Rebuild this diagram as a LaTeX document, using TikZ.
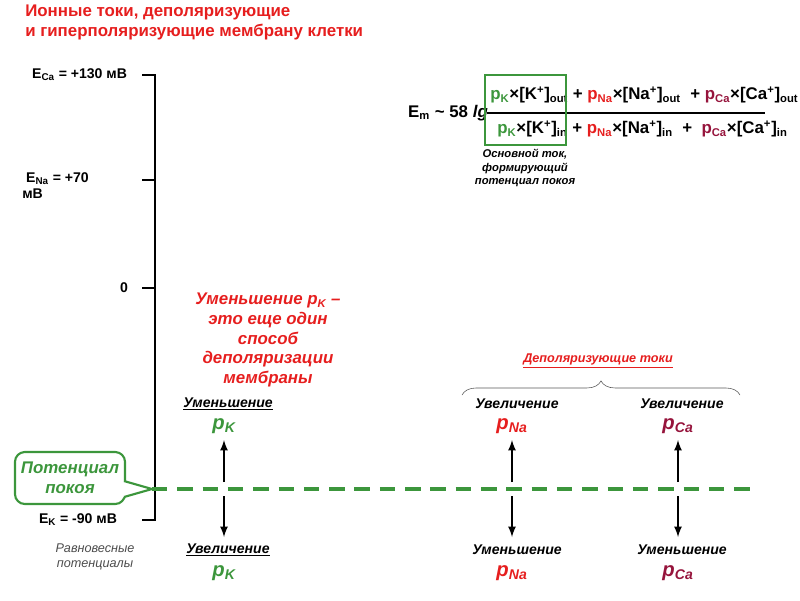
\documentclass[tikz,border=0pt]{standalone}
\usepackage{fontspec}
\setmainfont{Liberation Sans}
\usetikzlibrary{decorations.pathreplacing}
\definecolor{kgreen}{RGB}{60,150,60}
\definecolor{nared}{RGB}{230,30,30}
\definecolor{camag}{RGB}{150,20,60}
\newcommand{\pk}{\textcolor{kgreen}{p\textsubscript{K}}}
\newcommand{\pna}{\textcolor{nared}{p\textsubscript{Na}}}
\newcommand{\pca}{\textcolor{camag}{p\textsubscript{Ca}}}
\begin{document}
\begin{tikzpicture}[x=0.025cm,y=-0.025cm,
  lbl/.style={font=\bfseries\itshape},
  ion/.style={font=\bfseries\itshape\Large},
  pot/.style={font=\bfseries},
  arr/.style={-latex,line width=1.5pt}]
\useasboundingbox (0,0) rectangle (800,600);

% title
\node[anchor=north west,align=left,text=nared,font=\bfseries\large,inner sep=0pt] (title) at (25,5)
  {Ионные токи, деполяризующие\\и гиперполяризующие мембрану клетки};

% potential axis
\coordinate (top) at (155,75);
\coordinate (bot) at (155,520);
\draw[line width=1.4pt] (142,75) -- (top) -- (bot) -- (142,520);
\draw[line width=1.4pt] (142,180) -- (155,180) (142,288) -- (155,288);
\node[pot,anchor=east] (eca) at (132,75) {E\textsubscript{Ca} = +130 мВ};
\node[pot,anchor=north west,align=left,inner sep=0pt] (ena) at (22,172) {\ E\textsubscript{Na} = +70\\мВ};
\node[pot,anchor=east] (zero) at (133,288) {0};
\node[pot,anchor=east] (ek) at (122,520) {E\textsubscript{K} = -90 мВ};
\node[font=\itshape\small,text=gray!60!black,align=center] (eq) at (95,557) {Равновесные\\потенциалы};

% resting potential
\coordinate (rest) at (152,489);
\draw[kgreen,line width=2.5pt,dash pattern=on 11pt off 7pt] (rest) -- (755,489);
\node[draw=kgreen,line width=1.5pt,rounded corners=7pt,text=kgreen,font=\bfseries\itshape\large,
  align=center,fill=white,minimum width=2.75cm,minimum height=1.3cm,inner sep=2pt] (rp) at (70,478)
  {Потенциал\\покоя};
\fill[white] (123,481) -- (rest) -- (123,497) -- cycle;
\draw[kgreen,line width=1.5pt] (124,481) -- (rest) -- (124,497);

% arrows
\foreach \x in {224,512,678}{
  \draw[arr] (\x,482) -- (\x,440);
  \draw[arr] (\x,496) -- (\x,537);
}

\node[lbl] (kup) at (228,404) {\underline{Уменьшение}};
\node[ion,text=kgreen] (kupi) at (224,426) {p\textsubscript{K}};
\node[lbl] (kdn) at (228,550) {\underline{Увеличение}};
\node[ion,text=kgreen] (kdni) at (224,573) {p\textsubscript{K}};
\node[lbl] (naup) at (517,404) {Увеличение};
\node[ion,text=nared] (naupi) at (512,426) {p\textsubscript{Na}};
\node[lbl] (nadn) at (517,550) {Уменьшение};
\node[ion,text=nared] (nadni) at (512,573) {p\textsubscript{Na}};
\node[lbl] (caup) at (682,404) {Увеличение};
\node[ion,text=camag] (caupi) at (678,426) {p\textsubscript{Ca}};
\node[lbl] (cadn) at (682,550) {Уменьшение};
\node[ion,text=camag] (cadni) at (678,573) {p\textsubscript{Ca}};

% remark
\node[text=nared,font=\bfseries\itshape\large,align=center,inner sep=0pt] (note) at (268,340)
  {Уменьшение p\textsubscript{K} –\\это еще один\\способ\\деполяризации\\мембраны};

% depolarizing currents
\draw[decorate,decoration={brace,amplitude=10pt},gray!70!black] (462,395) -- (740,395);
\node[text=nared,font=\bfseries\itshape\small] (dep) at (598,361) {\underline{Деполяризующие токи}};

% formula
\node[pot,font=\bfseries\large] (em) at (448,113) {E\textsubscript{m} \textasciitilde{} 58 \textit{lg}};
\node[pot,anchor=west,inner sep=0pt,font=\bfseries\large] (num) at (490,95)
  {\pk{}×[K\textsuperscript{+}]\textsubscript{out} + \pna×[Na\textsuperscript{+}]\textsubscript{out} \ + \pca×[Ca\textsuperscript{+}]\textsubscript{out}};
\node[pot,anchor=west,inner sep=0pt,font=\bfseries\large] (den) at (497,129)
  {\pk{}×[K\textsuperscript{+}]\textsubscript{in} + \pna×[Na\textsuperscript{+}]\textsubscript{in} \ + \ \pca×[Ca\textsuperscript{+}]\textsubscript{in}};
\draw[line width=1pt] (487,113) -- (765,113);
\draw[kgreen,line width=2pt] (485,75) rectangle (566,145);
\node[font=\bfseries\itshape\footnotesize,align=center,inner sep=0pt] (main) at (525,168)
  {Основной ток,\\формирующий\\потенциал покоя};
\end{tikzpicture}
\end{document}
